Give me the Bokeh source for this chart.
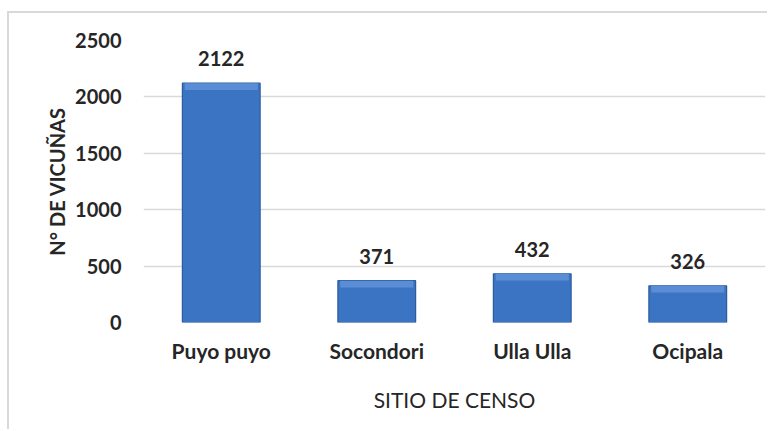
from bokeh.plotting import figure
from bokeh.models import ColumnDataSource, Range1d, Title
from bokeh.embed import file_html
from bokeh.resources import INLINE
from bokeh.core.properties import value

sites = ["Puyo puyo", "Socondori", "Ulla Ulla", "Ocipala"]
counts = [2122, 371, 432, 326]
y_ticks = [0, 500, 1000, 1500, 2000, 2500]
x_title = "SITIO DE CENSO"
y_title = "N° DE VICUÑAS"

FONT = "Lato"
BEVEL = 60  # height of the lighter top band, in data units
src = ColumnDataSource(dict(site=sites, count=counts,
                            bevel=[c - BEVEL for c in counts],
                            label=[str(c) for c in counts]))

p = figure(x_range=sites, y_range=Range1d(0, 2500), width=760, height=418,
           output_backend="svg", toolbar_location=None,
           min_border_left=134, min_border_right=4, min_border_top=27, min_border_bottom=103)
p.margin = (13, 0, 0, 9)
p.styles = {"box-shadow": "-2px -2px 0 0 #d9d9d9"}
p.outline_line_color = None
p.background_fill_color = "white"
p.border_fill_color = "white"

p.vbar(x="site", top="count", width=0.5, source=src,
       fill_color="#3c74c4", line_color="#2b5d9e", line_width=1.2)
p.vbar(x="site", top="count", bottom="bevel", width=0.47, source=src,
       fill_color="#5a8dd6", line_color=None)

p.text(x="site", y="count", text="label", source=src, y_offset=-17,
       text_align="center", text_baseline="bottom", text_font=value(FONT),
       text_font_style="bold", text_font_size="20px", text_color="#262626")

p.xgrid.grid_line_color = None
p.ygrid.grid_line_color = "#d9d9d9"
p.ygrid.grid_line_width = 1.5
p.yaxis.ticker = y_ticks

for ax in (p.xaxis, p.yaxis):
    ax.axis_line_color = None
    ax.major_tick_line_color = None
    ax.minor_tick_line_color = None
    ax.major_label_text_font = FONT
    ax.major_label_text_font_style = "bold"
    ax.major_label_text_font_size = "20px"
    ax.major_label_text_color = "#262626"
    ax.axis_label_text_font = FONT
    ax.axis_label_text_font_style = "bold"
    ax.axis_label_text_font_size = "20px"
    ax.axis_label_text_color = "#262626"

p.xaxis.major_label_text_font_size = "21px"
p.yaxis.major_label_standoff = 16
p.yaxis.axis_label = y_title
p.yaxis.axis_label_standoff = 3
p.xaxis.major_label_standoff = 9

t = Title(text=x_title, align="center", offset=-20, standoff=39,
          text_font=FONT, text_font_style="normal", text_font_size="21px",
          text_line_height=1.0, text_color="#262626")
p.add_layout(t, "below")

open("out.html", "w").write(file_html(p, INLINE))
